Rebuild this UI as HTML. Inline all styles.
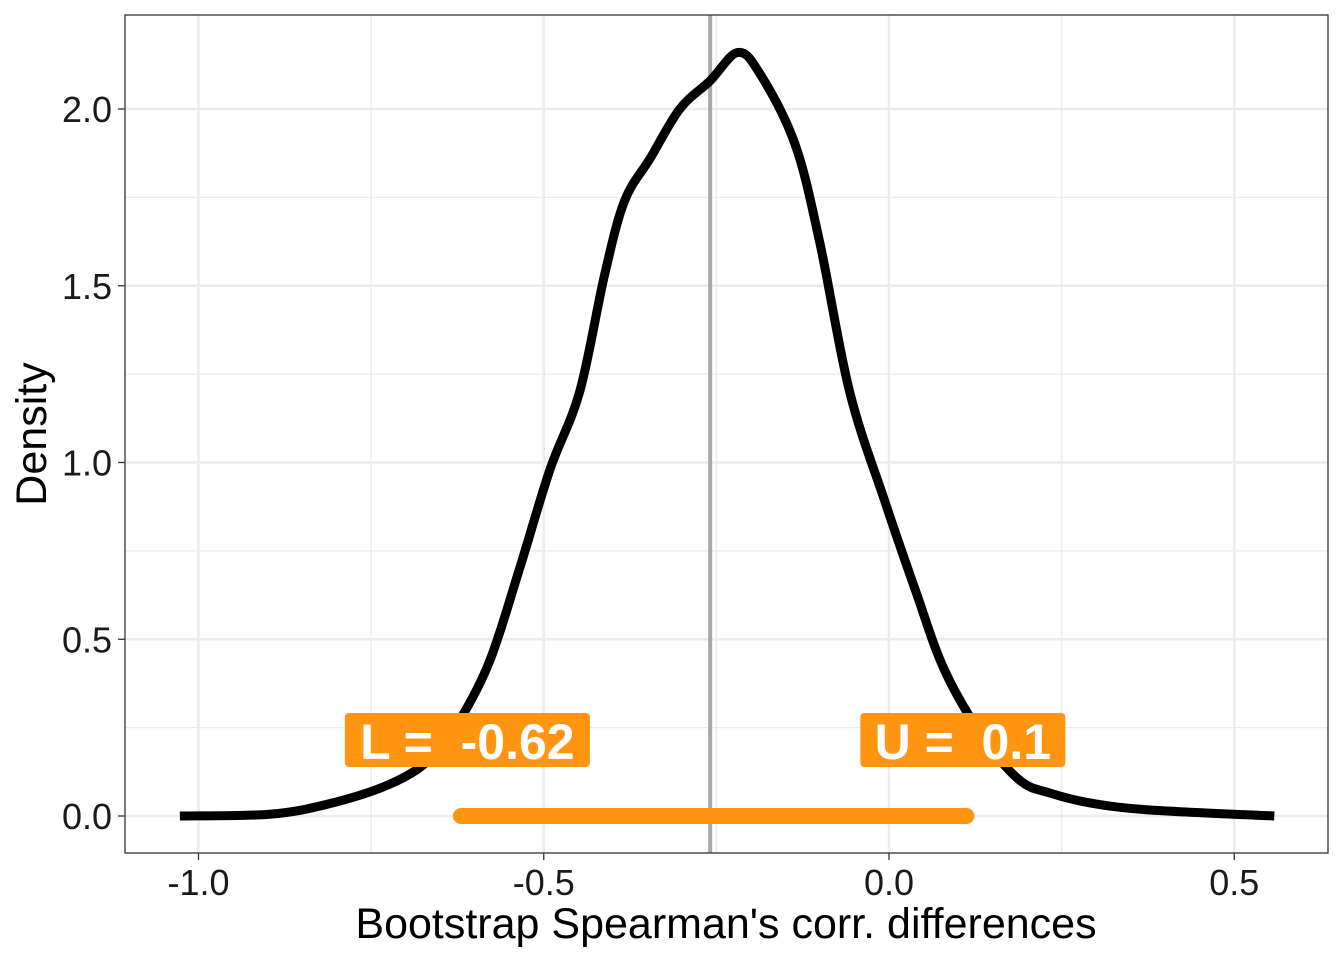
<!DOCTYPE html>
<html><head><meta charset="utf-8"><style>
body{margin:0;background:#fff}
svg{display:block;font-family:"Liberation Sans",Arial,sans-serif}
text{white-space:pre}
</style></head><body>
<svg id="chart" width="1344" height="960">
<g id="grid"></g>
<g id="marks"></g>
<rect x="125" y="15" width="1203" height="838" fill="none" stroke="#333" stroke-width="1.3"/>
<g id="axes"></g>
<text x="726" y="938" text-anchor="middle" font-size="43" fill="#000">Bootstrap Spearman's corr. differences</text>
<text transform="translate(46,434) rotate(-90)" text-anchor="middle" font-size="43" fill="#000">Density</text>
</svg>
<script>
const densX=[-1.027,-0.897,-0.81,-0.723,-0.665,-0.622,-0.578,-0.535,-0.491,-0.448,-0.412,-0.383,-0.346,-0.303,-0.259,-0.219,-0.187,-0.136,-0.1,-0.057,-0.006,0.038,0.081,0.139,0.19,0.233,0.291,0.378,0.558];
const densY=[0,0.005,0.035,0.09,0.16,0.27,0.44,0.70,0.98,1.2,1.53,1.74,1.86,2.0,2.08,2.16,2.1,1.9,1.62,1.2,0.89,0.64,0.41,0.215,0.1,0.065,0.037,0.017,0];
const xTicks=[-1.0,-0.5,0.0,0.5];
const xTickLabels=["-1.0","-0.5","0.0","0.5"];
const yTicks=[0,0.5,1.0,1.5,2.0];
const yTickLabels=["0.0","0.5","1.0","1.5","2.0"];
const estimate=-0.259;
const lower=-0.62, upper=0.112;
const lowerLabel="L =  -0.62", upperLabel="U =  0.1";
const sx=v=>889+v*690.5, sy=v=>816-v*353.5;
const NS="http://www.w3.org/2000/svg";
function mk(parent,tag,attrs){const e=document.createElementNS(NS,tag);for(const k in attrs)e.setAttribute(k,attrs[k]);document.getElementById(parent).appendChild(e);return e;}
for(let i=0;i<xTicks.length-1;i++){const v=(xTicks[i]+xTicks[i+1])/2;const l=mk('grid','line',{x1:sx(v),x2:sx(v),y1:15,y2:853,stroke:'#ebebeb','stroke-width':1.3});}
for(let i=0;i<yTicks.length-1;i++){const v=(yTicks[i]+yTicks[i+1])/2;const l=mk('grid','line',{x1:125,x2:1328,y1:sy(v),y2:sy(v),stroke:'#ebebeb','stroke-width':1.3});}
xTicks.forEach((v,i)=>{const l=mk('grid','line',{x1:sx(v),x2:sx(v),y1:15,y2:853,stroke:'#ebebeb','stroke-width':2.6});
const t=mk('axes','line',{x1:sx(v),x2:sx(v),y1:853,y2:860,stroke:'#333','stroke-width':1.3});
const tx=mk('axes','text',{x:sx(v),y:895,'text-anchor':'middle','font-size':36,fill:'#1a1a1a'});tx.textContent=xTickLabels[i];});
yTicks.forEach((v,i)=>{const l=mk('grid','line',{x1:125,x2:1328,y1:sy(v),y2:sy(v),stroke:'#ebebeb','stroke-width':2.6});
const t=mk('axes','line',{x1:118,x2:125,y1:sy(v),y2:sy(v),stroke:'#333','stroke-width':1.3});
const tx=mk('axes','text',{x:112,y:sy(v)+13,'text-anchor':'end','font-size':36,fill:'#1a1a1a'});tx.textContent=yTickLabels[i];});
const el=mk('marks','line',{x1:sx(estimate),x2:sx(estimate),y1:15,y2:853,stroke:'#a9a9a9','stroke-width':4});

const P=densX.map((x,i)=>[sx(x),sy(densY[i])]);
let d=`M${P[0][0]},${P[0][1]}`;
for(let i=0;i<P.length-1;i++){const p0=P[Math.max(i-1,0)],p1=P[i],p2=P[i+1],p3=P[Math.min(i+2,P.length-1)];
d+=` C${p1[0]+(p2[0]-p0[0])/6},${p1[1]+(p2[1]-p0[1])/6} ${p2[0]-(p3[0]-p1[0])/6},${p2[1]-(p3[1]-p1[1])/6} ${p2[0]},${p2[1]}`;}
const c=mk('marks','path',{d:d,fill:'none',stroke:'#000','stroke-width':9,'stroke-linejoin':'round'});

const ci=mk('marks','line',{x1:sx(lower),x2:sx(upper),y1:sy(0),y2:sy(0),stroke:'#ff9510','stroke-width':16,'stroke-linecap':'round'});

function label(x,w,txt,name){const r=mk('marks','rect',{x:x,y:713,width:w,height:54,rx:4,fill:'#ff9510'});

const t=mk('marks','text',{x:x+w/2,y:759,'text-anchor':'middle','font-size':50,'font-weight':'bold',fill:'#fff'});t.textContent=txt;
}
label(sx(lower)-116,245,lowerLabel,'lower-label');
label(sx(upper)-106,205,upperLabel,'upper-label');
</script>
</body></html>
